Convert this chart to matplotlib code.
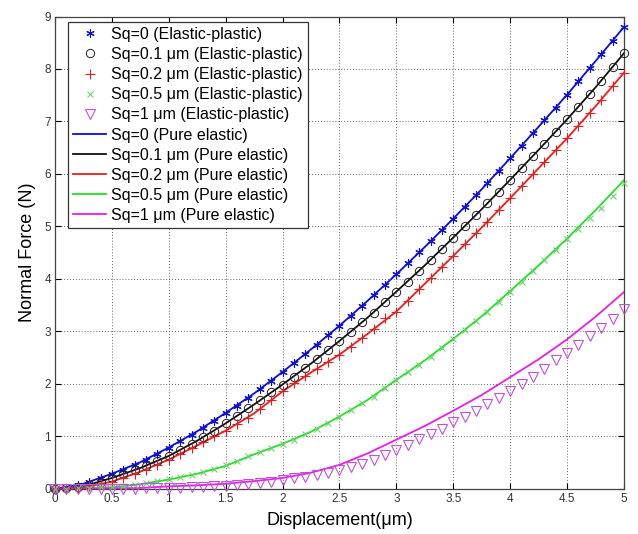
import matplotlib
matplotlib.use('Agg')
import matplotlib.pyplot as plt
import numpy as np

plt.rcParams['font.family'] = ['Liberation Sans', 'DejaVu Sans']

# displacement grid for the elastic-plastic markers (every 0.1 um)
disp_pts = [round(0.1 * i, 1) for i in range(51)]
# displacement grid for the pure-elastic curves
disp_line = [0, 0.25, 0.5, 0.75, 1.0, 1.25, 1.5, 1.75, 2.0, 2.25, 2.5,
             2.75, 3.0, 3.25, 3.5, 3.75, 4.0, 4.25, 4.5, 4.75, 5.0]

# elastic-plastic normal force (N)
ep_sq0 = [0, 0.02, 0.07, 0.13, 0.21, 0.29, 0.37, 0.46, 0.56, 0.67, 0.79,
          0.91, 1.03, 1.17, 1.30, 1.45, 1.59, 1.74, 1.90, 2.06, 2.23,
          2.40, 2.57, 2.75, 2.93, 3.11, 3.30, 3.49, 3.69, 3.89, 4.09,
          4.30, 4.51, 4.72, 4.93, 5.15, 5.38, 5.60, 5.83, 6.06, 6.30,
          6.53, 6.78, 7.02, 7.26, 7.51, 7.77, 8.02, 8.28, 8.54, 8.80]
ep_sq01 = [0, 0.01, 0.03, 0.08, 0.14, 0.21, 0.28, 0.36, 0.44, 0.53, 0.63,
           0.74, 0.86, 0.99, 1.11, 1.25, 1.39, 1.54, 1.69, 1.84, 1.99,
           2.14, 2.31, 2.48, 2.65, 2.82, 2.99, 3.18, 3.36, 3.56, 3.76,
           3.95, 4.16, 4.37, 4.58, 4.79, 5.00, 5.22, 5.44, 5.66, 5.89,
           6.11, 6.34, 6.57, 6.80, 7.04, 7.28, 7.53, 7.78, 8.04, 8.30]
ep_sq02 = [0, 0.00, 0.02, 0.05, 0.09, 0.14, 0.21, 0.29, 0.37, 0.46, 0.56,
           0.66, 0.78, 0.89, 1.00, 1.11, 1.23, 1.36, 1.52, 1.69, 1.86,
           2.01, 2.16, 2.29, 2.42, 2.56, 2.70, 2.88, 3.05, 3.25, 3.38,
           3.58, 3.81, 4.02, 4.23, 4.44, 4.66, 4.87, 5.09, 5.32, 5.54,
           5.77, 6.00, 6.22, 6.45, 6.68, 6.91, 7.17, 7.41, 7.67, 7.93]
ep_sq05 = [0, 0.00, 0.01, 0.02, 0.03, 0.04, 0.06, 0.08, 0.11, 0.15, 0.19,
           0.23, 0.27, 0.32, 0.39, 0.46, 0.54, 0.62, 0.70, 0.78, 0.86,
           0.94, 1.04, 1.14, 1.26, 1.38, 1.50, 1.63, 1.76, 1.92, 2.08,
           2.22, 2.37, 2.52, 2.68, 2.86, 3.03, 3.20, 3.38, 3.57, 3.76,
           3.95, 4.16, 4.36, 4.56, 4.76, 4.95, 5.16, 5.36, 5.58, 5.83]
ep_sq1 = [0, 0, 0, 0, 0, 0, 0, 0.00, 0.01, 0.01, 0.02,
          0.02, 0.03, 0.04, 0.05, 0.06, 0.08, 0.10, 0.12, 0.14, 0.17,
          0.20, 0.23, 0.27, 0.31, 0.36, 0.41, 0.47, 0.55, 0.64, 0.74,
          0.84, 0.95, 1.05, 1.15, 1.27, 1.38, 1.49, 1.61, 1.73, 1.86,
          2.00, 2.14, 2.29, 2.45, 2.59, 2.75, 2.91, 3.07, 3.24, 3.42]

# pure elastic normal force (N)
pe_sq0 = [0, 0.10, 0.29, 0.51, 0.79, 1.10, 1.45, 1.82, 2.23, 2.66, 3.11,
          3.59, 4.09, 4.61, 5.15, 5.71, 6.30, 6.90, 7.51, 8.15, 8.80]
pe_sq01 = [0, 0.05, 0.21, 0.40, 0.63, 0.92, 1.25, 1.61, 1.99, 2.39, 2.82,
           3.27, 3.76, 4.26, 4.79, 5.33, 5.89, 6.46, 7.04, 7.65, 8.30]
pe_sq02 = [0, 0.03, 0.14, 0.33, 0.56, 0.83, 1.11, 1.44, 1.86, 2.22, 2.56,
           2.96, 3.38, 3.91, 4.44, 4.98, 5.54, 6.11, 6.68, 7.29, 7.93]
pe_sq05 = [0, 0.01, 0.03, 0.09, 0.18, 0.29, 0.44, 0.66, 0.86, 1.09, 1.38,
           1.70, 2.08, 2.45, 2.86, 3.29, 3.77, 4.26, 4.77, 5.31, 5.88]
pe_sq1 = [0, 0.00, 0.01, 0.02, 0.05, 0.07, 0.10, 0.15, 0.21, 0.31, 0.46,
          0.68, 0.94, 1.20, 1.49, 1.79, 2.13, 2.47, 2.85, 3.28, 3.75]

x_ticks = [0, 0.5, 1, 1.5, 2, 2.5, 3, 3.5, 4, 4.5, 5]
x_ticklabels = ['0', '0.5', '1', '1.5', '2', '2.5', '3', '3.5', '4', '4.5', '5']
y_ticks = [0, 1, 2, 3, 4, 5, 6, 7, 8, 9]

fig = plt.figure(figsize=(6.38, 5.34), dpi=100)
ax = fig.add_axes([0.0862, 0.0843, 0.8918, 0.8848])

mk = dict(linestyle='none', clip_on=False, zorder=3)
ax.plot(disp_pts, ep_sq0, marker=(6, 2, 0), ms=6, mew=0.8, color='#1010d0',
        label='Sq=0 (Elastic-plastic)', **mk)
ax.plot(disp_pts, ep_sq01, marker='o', ms=6, mew=0.7, mfc='none', color='#202020',
        label='Sq=0.1 \u03bcm (Elastic-plastic)', **mk)
ax.plot(disp_pts, ep_sq02, marker='+', ms=6.5, mew=0.8, color='#e02020',
        label='Sq=0.2 \u03bcm (Elastic-plastic)', **mk)
ax.plot(disp_pts, ep_sq05, marker='x', ms=5, mew=0.8, color='#70d070',
        label='Sq=0.5 \u03bcm (Elastic-plastic)', **mk)
ax.plot(disp_pts, ep_sq1, marker='v', ms=7, mew=0.8, mfc='none', color='#c050d8',
        label='Sq=1 \u03bcm (Elastic-plastic)', **mk)

ax.plot(disp_line, pe_sq0, color='#0a0ae6', lw=1.3, label='Sq=0 (Pure elastic)')
ax.plot(disp_line, pe_sq01, color='#101010', lw=1.3, label='Sq=0.1 \u03bcm (Pure elastic)')
ax.plot(disp_line, pe_sq02, color='#f01a1a', lw=1.3, label='Sq=0.2 \u03bcm (Pure elastic)')
ax.plot(disp_line, pe_sq05, color='#22e022', lw=1.3, label='Sq=0.5 \u03bcm (Pure elastic)')
ax.plot(disp_line, pe_sq1, color='#e81ee8', lw=1.3, label='Sq=1 \u03bcm (Pure elastic)')

ax.set_xlim(0, 5)
ax.set_ylim(0, 9)
ax.set_xticks(x_ticks)
ax.set_xticklabels(x_ticklabels)
ax.set_yticks(y_ticks)
ax.tick_params(direction='in', length=4, width=0.8, top=True, right=True,
               labelsize=8.5, labelcolor='#333333', pad=3)
ax.grid(True, color='#333333', linestyle=(0, (1, 2.5)), lw=0.6)
for s in ax.spines.values():
    s.set_color('#444444')
    s.set_linewidth(0.9)

ax.set_xlabel('Displacement(\u03bcm)', fontsize=13, labelpad=5)
ax.set_ylabel('Normal Force (N)', fontsize=13, labelpad=6)

leg = ax.legend(loc='upper left', bbox_to_anchor=(0.023, 0.988), borderaxespad=0,
                fontsize=11.5, fancybox=False, framealpha=1, edgecolor='#333333',
                handlelength=2.1, handletextpad=0.3, labelspacing=0.32,
                borderpad=0.3, numpoints=1)
leg.get_frame().set_linewidth(0.9)

fig.savefig('out.png', dpi=100)
